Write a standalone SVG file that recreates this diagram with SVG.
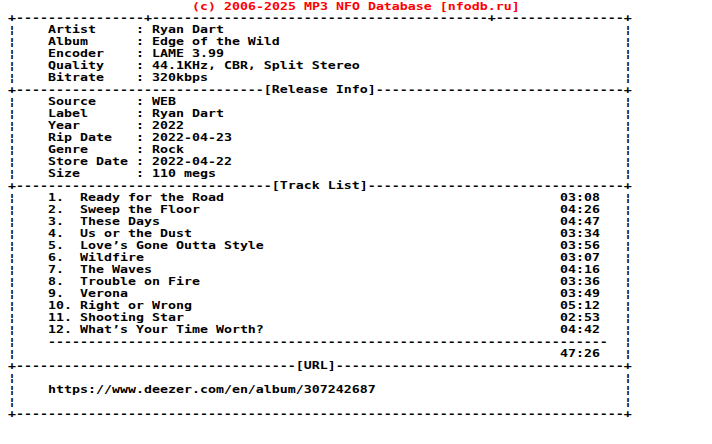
<svg xmlns="http://www.w3.org/2000/svg" width="712" height="444" viewBox="0 0 712 444" xml:space="preserve">
<style>
text{font-family:"DejaVu Sans Mono","Liberation Mono",monospace;font-size:10.25px;font-weight:bold;fill:#000;white-space:pre}
.red{fill:#ff0000}
</style>
<rect width="712" height="444" fill="#fff"/>
<g id="nfo" transform="translate(0,0.8) scale(1.2964,1)">
<text id="nfo-text"><tspan class="red" x="148.104" y="8.7">(c) 2006-2025 MP3 NFO Database [nfodb.ru]</tspan><tspan x="6.171" y="20.7">+----------------+------------------------------------------+----------------+</tspan><tspan x="6.171" y="32.7">¦</tspan><tspan x="37.026" y="32.7">Artist     : Ryan Dart</tspan><tspan x="481.338" y="32.7">¦</tspan><tspan x="6.171" y="44.7">¦</tspan><tspan x="37.026" y="44.7">Album      : Edge of the Wild</tspan><tspan x="481.338" y="44.7">¦</tspan><tspan x="6.171" y="56.7">¦</tspan><tspan x="37.026" y="56.7">Encoder    : LAME 3.99</tspan><tspan x="481.338" y="56.7">¦</tspan><tspan x="6.171" y="68.7">¦</tspan><tspan x="37.026" y="68.7">Quality    : 44.1KHz, CBR, Split Stereo</tspan><tspan x="481.338" y="68.7">¦</tspan><tspan x="6.171" y="80.7">¦</tspan><tspan x="37.026" y="80.7">Bitrate    : 320kbps</tspan><tspan x="481.338" y="80.7">¦</tspan><tspan x="6.171" y="92.7">+-------------------------------[Release Info]-------------------------------+</tspan><tspan x="6.171" y="104.7">¦</tspan><tspan x="37.026" y="104.7">Source     : WEB</tspan><tspan x="481.338" y="104.7">¦</tspan><tspan x="6.171" y="116.7">¦</tspan><tspan x="37.026" y="116.7">Label      : Ryan Dart</tspan><tspan x="481.338" y="116.7">¦</tspan><tspan x="6.171" y="128.7">¦</tspan><tspan x="37.026" y="128.7">Year       : 2022</tspan><tspan x="481.338" y="128.7">¦</tspan><tspan x="6.171" y="140.7">¦</tspan><tspan x="37.026" y="140.7">Rip Date   : 2022-04-23</tspan><tspan x="481.338" y="140.7">¦</tspan><tspan x="6.171" y="152.7">¦</tspan><tspan x="37.026" y="152.7">Genre      : Rock</tspan><tspan x="481.338" y="152.7">¦</tspan><tspan x="6.171" y="164.7">¦</tspan><tspan x="37.026" y="164.7">Store Date : 2022-04-22</tspan><tspan x="481.338" y="164.7">¦</tspan><tspan x="6.171" y="176.7">¦</tspan><tspan x="37.026" y="176.7">Size       : 110 megs</tspan><tspan x="481.338" y="176.7">¦</tspan><tspan x="6.171" y="188.7">+--------------------------------[Track List]--------------------------------+</tspan><tspan x="6.171" y="200.7">¦</tspan><tspan x="37.026" y="200.7">1.  Ready for the Road</tspan><tspan x="431.97" y="200.7">03:08</tspan><tspan x="481.338" y="200.7">¦</tspan><tspan x="6.171" y="212.7">¦</tspan><tspan x="37.026" y="212.7">2.  Sweep the Floor</tspan><tspan x="431.97" y="212.7">04:26</tspan><tspan x="481.338" y="212.7">¦</tspan><tspan x="6.171" y="224.7">¦</tspan><tspan x="37.026" y="224.7">3.  These Days</tspan><tspan x="431.97" y="224.7">04:47</tspan><tspan x="481.338" y="224.7">¦</tspan><tspan x="6.171" y="236.7">¦</tspan><tspan x="37.026" y="236.7">4.  Us or the Dust</tspan><tspan x="431.97" y="236.7">03:34</tspan><tspan x="481.338" y="236.7">¦</tspan><tspan x="6.171" y="248.7">¦</tspan><tspan x="37.026" y="248.7">5.  Love’s Gone Outta Style</tspan><tspan x="431.97" y="248.7">03:56</tspan><tspan x="481.338" y="248.7">¦</tspan><tspan x="6.171" y="260.7">¦</tspan><tspan x="37.026" y="260.7">6.  Wildfire</tspan><tspan x="431.97" y="260.7">03:07</tspan><tspan x="481.338" y="260.7">¦</tspan><tspan x="6.171" y="272.7">¦</tspan><tspan x="37.026" y="272.7">7.  The Waves</tspan><tspan x="431.97" y="272.7">04:16</tspan><tspan x="481.338" y="272.7">¦</tspan><tspan x="6.171" y="284.7">¦</tspan><tspan x="37.026" y="284.7">8.  Trouble on Fire</tspan><tspan x="431.97" y="284.7">03:36</tspan><tspan x="481.338" y="284.7">¦</tspan><tspan x="6.171" y="296.7">¦</tspan><tspan x="37.026" y="296.7">9.  Verona</tspan><tspan x="431.97" y="296.7">03:49</tspan><tspan x="481.338" y="296.7">¦</tspan><tspan x="6.171" y="308.7">¦</tspan><tspan x="37.026" y="308.7">10. Right or Wrong</tspan><tspan x="431.97" y="308.7">05:12</tspan><tspan x="481.338" y="308.7">¦</tspan><tspan x="6.171" y="320.7">¦</tspan><tspan x="37.026" y="320.7">11. Shooting Star</tspan><tspan x="431.97" y="320.7">02:53</tspan><tspan x="481.338" y="320.7">¦</tspan><tspan x="6.171" y="332.7">¦</tspan><tspan x="37.026" y="332.7">12. What’s Your Time Worth?</tspan><tspan x="431.97" y="332.7">04:42</tspan><tspan x="481.338" y="332.7">¦</tspan><tspan x="6.171" y="344.7">¦</tspan><tspan x="37.026" y="344.7">----------------------------------------------------------------------</tspan><tspan x="481.338" y="344.7">¦</tspan><tspan x="6.171" y="356.7">¦</tspan><tspan x="431.97" y="356.7">47:26</tspan><tspan x="481.338" y="356.7">¦</tspan><tspan x="6.171" y="368.7">+-----------------------------------[URL]------------------------------------+</tspan><tspan x="6.171" y="380.7">¦</tspan><tspan x="481.338" y="380.7">¦</tspan><tspan x="6.171" y="392.7">¦</tspan><tspan x="37.026" y="392.7">https://www.deezer.com/en/album/307242687</tspan><tspan x="481.338" y="392.7">¦</tspan><tspan x="6.171" y="404.7">¦</tspan><tspan x="481.338" y="404.7">¦</tspan><tspan x="6.171" y="416.7">+----------------------------------------------------------------------------+</tspan></text>
</g>
</svg>
